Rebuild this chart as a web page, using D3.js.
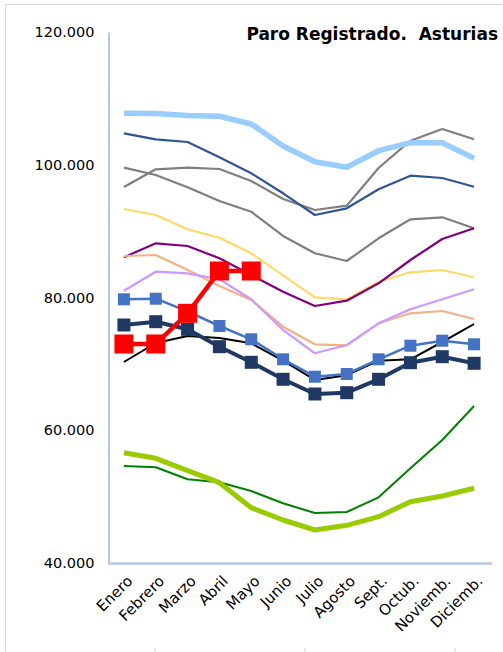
<!DOCTYPE html>
<html>
<head>
<meta charset="utf-8">
<script src="https://cdn.jsdelivr.net/npm/d3@7"></script>
<style>
  body { margin: 0; background: #fff; }
  text { font-family: "DejaVu Sans", Verdana, sans-serif; fill: #000; }
</style>
</head>
<body>
<div id="grafico"></div>
<script>
var meses = ["Enero", "Febrero", "Marzo", "Abril", "Mayo", "Junio", "Julio",
  "Agosto", "Sept.", "Octub.", "Noviemb.", "Diciemb."];

var ticksY = [40000, 60000, 80000, 100000, 120000];

// una serie por año
var grisA = [99556, 98456, 96603, 94539, 92927, 89266, 86659, 85499, 88919, 91782, 92083, 90426];
var grisB = [96648, 99315, 99556, 99360, 97552, 94840, 93183, 93831, 99511, 103624, 105386, 103835];
var azulOscuro = [104739, 103835, 103428, 101123, 98712, 95699, 92430, 93439, 96302, 98351, 98004, 96693];
var amarillo = [93334, 92430, 90275, 89010, 86659, 83345, 80030, 79729, 82381, 83797, 84143, 83044];
var morado = [86057, 88166, 87759, 85906, 83390, 80874, 78720, 79518, 82140, 85650, 88814, 90426];
var salmon = [86253, 86403, 84143, 81733, 79624, 75601, 72949, 72799, 76113, 77620, 77966, 76761];
var lila = [81025, 83887, 83646, 82742, 79729, 75104, 71593, 72844, 76113, 78222, 79729, 81236];
var negro = [70283, 73145, 74200, 73899, 73100, 70479, 67571, 68300, 70479, 70689, 73296, 76008];
var verde = [54614, 54418, 52610, 52158, 50848, 48994, 47533, 47684, 49898, 54268, 58531, 63654];
var verdeClaro = [56618, 55774, 53906, 52098, 48331, 46478, 44972, 45680, 46976, 49235, 50094, 51254];
var azulClaro = [107752, 107720, 107420, 107300, 106140, 102825, 100460, 99616, 102117, 103322, 103322, 100972];
var azulMarca = [79729, 79819, 77921, 75706, 73703, 70689, 68068, 68475, 70689, 72738, 73492, 72949];
var marinoMarca = [75857, 76354, 75209, 72588, 70237, 67676, 65462, 65657, 67676, 70177, 71081, 70087];
var rojo = [72995, 72995, 77620, 83993, 83993];

var svgWidth = 503;
var svgHeight = 652;

var svg = d3.select("#grafico")
  .append("svg")
  .attr("width", svgWidth)
  .attr("height", svgHeight);

// marco exterior
svg.append("path")
  .attr("d", "M5.5,652 V4.5 H503")
  .attr("fill", "none")
  .attr("stroke", "#d9d9d9");

[155, 305, 455].forEach(function (x) {
  svg.append("line")
    .attr("x1", x).attr("x2", x)
    .attr("y1", 648).attr("y2", 652)
    .attr("stroke", "#d0d0d0");
});

var xScale = d3.scalePoint()
  .domain(meses)
  .range([108, 490])
  .padding(0.5);

var yScale = d3.scaleLinear()
  .domain([40000, 120000])
  .range([563, 32]);

var es = d3.formatLocale({ decimal: ",", thousands: ".", grouping: [3], currency: ["", "€"] });

// eje Y
var leftAxis = d3.axisLeft(yScale)
  .tickValues(ticksY)
  .tickSize(0)
  .tickPadding(14)
  .tickFormat(es.format(",d"));

var gy = svg.append("g")
  .attr("transform", "translate(108.5,0)")
  .call(leftAxis);
gy.select(".domain").attr("stroke", "#b4c7e7").attr("stroke-width", 2);
gy.selectAll("text")
  .style("font-family", "'DejaVu Sans', Verdana, sans-serif")
  .style("font-size", "14.5px")
  .attr("fill", "#000");

// eje X
var bottomAxis = d3.axisBottom(xScale).tickSize(0).tickPadding(0);
var gx = svg.append("g")
  .attr("transform", "translate(0,563)")
  .call(bottomAxis);
gx.select(".domain")
  .attr("d", "M108,0.5H492")
  .attr("stroke", "#b4c7e7")
  .attr("stroke-width", 2.5);
gx.selectAll("text")
  .style("font-family", "'DejaVu Sans', Verdana, sans-serif")
  .style("font-size", "15px")
  .attr("fill", "#000")
  .attr("text-anchor", "end")
  .attr("dy", "0")
  .attr("transform", "translate(9,19) rotate(-45)");

var linea = d3.line()
  .x(function (d, i) { return xScale(meses[i]); })
  .y(function (d) { return yScale(d); });

var series = [
  { datos: grisA, color: "#7f7f7f", ancho: 2.2 },
  { datos: grisB, color: "#7f7f7f", ancho: 2.2 },
  { datos: azulOscuro, color: "#2f5597", ancho: 2.2 },
  { datos: amarillo, color: "#ffd966", ancho: 2.2 },
  { datos: morado, color: "#800080", ancho: 2.2 },
  { datos: salmon, color: "#f4b183", ancho: 2.2 },
  { datos: lila, color: "#cc99ff", ancho: 2.2 },
  { datos: negro, color: "#000000", ancho: 2 },
  { datos: verde, color: "#008000", ancho: 2 },
  { datos: verdeClaro, color: "#99cc00", ancho: 5 },
  { datos: azulClaro, color: "#99ccff", ancho: 5.5 },
  { datos: azulMarca, color: "#4472c4", ancho: 2.5, marca: 12 },
  { datos: marinoMarca, color: "#1f3864", ancho: 4, marca: 13 },
  { datos: rojo, color: "#ff0000", ancho: 4.5, marca: 19 }
];

series.forEach(function (s) {
  svg.append("path")
    .datum(s.datos)
    .attr("fill", "none")
    .attr("stroke", s.color)
    .attr("stroke-width", s.ancho)
    .attr("stroke-linejoin", "round")
    .attr("d", linea);

  if (s.marca) {
    svg.selectAll(null)
      .data(s.datos)
      .enter()
      .append("rect")
      .attr("x", function (d, i) { return xScale(meses[i]) - s.marca / 2; })
      .attr("y", function (d) { return yScale(d) - s.marca / 2; })
      .attr("width", s.marca)
      .attr("height", s.marca)
      .attr("fill", s.color);
  }
});

// titulo
svg.append("text")
  .attr("x", 498)
  .attr("y", 40)
  .attr("text-anchor", "end")
  .style("font-size", "17px")
  .style("font-weight", "bold")
  .style("white-space", "pre")
  .text("Paro Registrado.  Asturias");
</script>
</body>
</html>
